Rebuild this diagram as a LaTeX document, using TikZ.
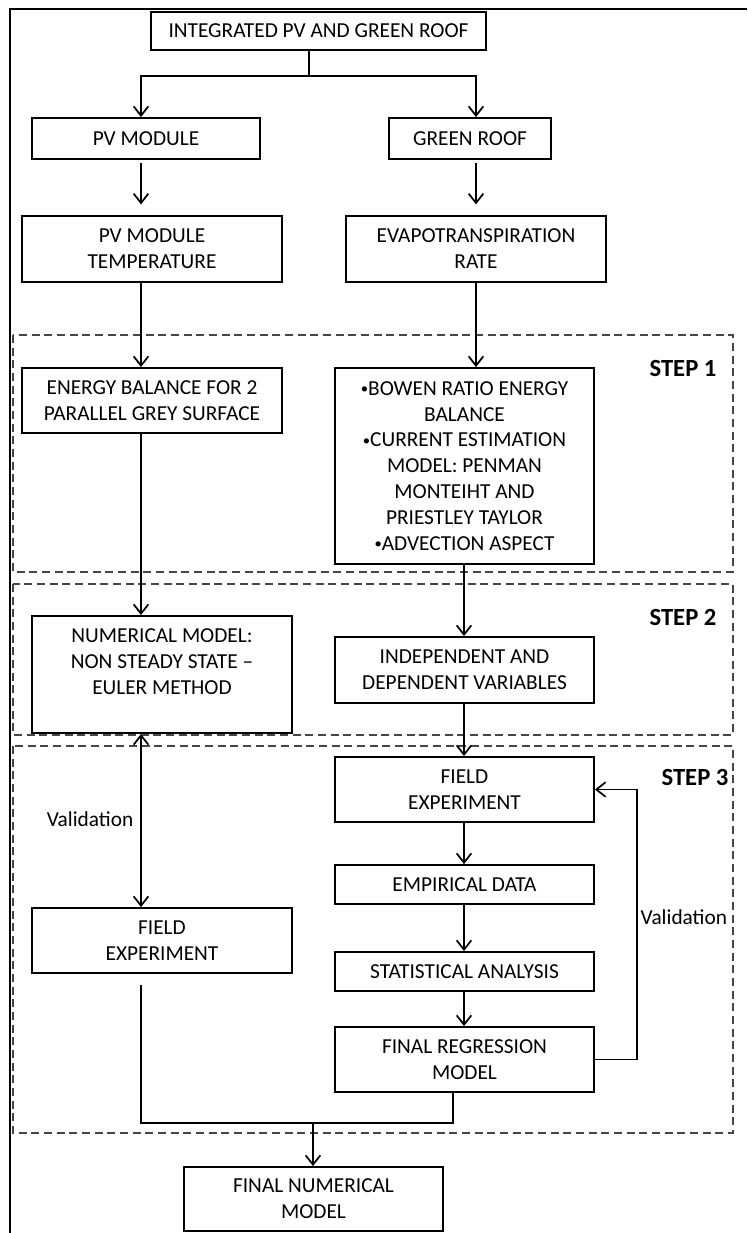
\documentclass[tikz,border=0pt]{standalone}
\usepackage{fontspec}
\setmainfont{Carlito}
\usetikzlibrary{arrows.meta,positioning}
\definecolor{stagegrey}{RGB}{70,70,70}

\newcommand{\dotitem}{\raisebox{0.15ex}{\fontsize{11}{11}\selectfont\textbullet}}

\tikzset{
 box/.style={draw,line width=1.4pt,align=center,inner sep=0pt,
  font=\fontsize{16}{19.4}\selectfont},
 barb/.tip={Straight Barb[length=7pt,width=11pt]},
 flow/.style={line width=1.3pt,-barb},
 twoway/.style={line width=1.3pt,barb-barb},
 link/.style={line width=1.3pt},
 stagebox/.style={stagegrey,line width=1pt,dash pattern=on 6pt off 3.5pt},
 steplabel/.style={font=\fontsize{18.5}{20}\selectfont\bfseries},
 note/.style={font=\fontsize{16}{19}\selectfont,inner sep=1pt}
}

\begin{document}
\begin{tikzpicture}[x=0.75pt,y=-0.75pt,line cap=butt,line join=miter]
 \useasboundingbox (0,0) rectangle (747,1233);
 \draw[line width=0.9pt] (10,1233) -- (10,9) -- (747,9);

 \draw[stagebox] (13,335) rectangle (733,572);
 \draw[stagebox] (13,584) rectangle (733,735);
 \draw[stagebox] (13,746) rectangle (733,1133);
 \node[steplabel] (s1) at (683,368) {STEP 1};
 \node[steplabel] (s2) at (683,617) {STEP 2};
 \node[steplabel] (s3) at (695,777) {STEP 3};

 \coordinate (colL) at (141,0);
 \coordinate (colR) at (476,0);
 \coordinate (colC) at (464,0);
 \coordinate (colM) at (453,0);
 \coordinate (colV) at (637,0);
 \coordinate (split) at (309,76);
 \coordinate (join) at (313,1123);

 \node[box,minimum width=251.25pt,minimum height=28.5pt] (top) at (318.5,31) {INTEGRATED PV AND GREEN ROOF};
 \node[box,minimum width=171pt,minimum height=30.75pt] (pvm) at (146,138.5) {PV MODULE};
 \node[box,minimum width=121.5pt,minimum height=30.75pt] (grf) at (470,138.5) {GREEN ROOF};
 \node[box,minimum width=195pt,minimum height=49.5pt] (pvt) at (152,249) {PV MODULE\\TEMPERATURE};
 \node[box,minimum width=195pt,minimum height=49.5pt] (evr) at (476,249) {EVAPOTRANSPIRATION\\RATE};
 \node[box,minimum width=195pt,minimum height=48.75pt] (ebal) at (152,400.5) {ENERGY BALANCE FOR 2\\PARALLEL GREY SURFACE};
 \node[box,minimum width=194.25pt,minimum height=147pt] (bowen) at (464.5,466)
  {\dotitem BOWEN RATIO ENERGY\\BALANCE\\\dotitem CURRENT ESTIMATION\\MODEL: PENMAN\\MONTEIHT AND\\PRIESTLEY TAYLOR\\\dotitem ADVECTION ASPECT};
 \node[box,minimum width=195pt,minimum height=87.75pt] (num) at (162,674.5) {NUMERICAL MODEL:\\NON STEADY STATE --\\EULER METHOD\\ ~};
 \node[box,minimum width=194.25pt,minimum height=49.5pt] (indep) at (464.5,670) {INDEPENDENT AND\\DEPENDENT VARIABLES};
 \node[box,minimum width=194.25pt,minimum height=48.75pt] (fexpR) at (464.5,789.5) {FIELD\\EXPERIMENT};
 \node[box,minimum width=194.25pt,minimum height=29.25pt] (emp) at (464.5,884.5) {EMPIRICAL DATA};
 \node[box,minimum width=195pt,minimum height=48.75pt] (fexpL) at (162,940.5) {FIELD\\EXPERIMENT};
 \node[box,minimum width=194.25pt,minimum height=29.25pt] (stat) at (464.5,971.5) {STATISTICAL ANALYSIS};
 \node[box,minimum width=194.25pt,minimum height=48.75pt] (freg) at (464.5,1059.5) {FINAL REGRESSION\\MODEL};
 \node[box,minimum width=194.25pt,minimum height=48pt] (fnum) at (313.5,1199) {FINAL NUMERICAL\\MODEL};

 \draw[link] (split |- top.south) -- (split);
 \draw[flow] (split) -| (colL |- pvm.north);
 \draw[flow] (split) -| (colR |- grf.north);
 \draw[flow,shorten <=2pt,shorten >=8pt] (colL |- pvm.south) -- (colL |- pvt.north);
 \draw[flow,shorten <=2pt,shorten >=8pt] (colR |- grf.south) -- (colR |- evr.north);
 \draw[flow] (colL |- pvt.south) -- (colL |- ebal.north);
 \draw[flow] (colR |- evr.south) -- (colR |- bowen.north);
 \draw[flow] (colL |- ebal.south) -- (colL |- num.north);
 \draw[flow] (colC |- bowen.south) -- (colC |- indep.north);
 \draw[flow] (colC |- indep.south) -- (colC |- fexpR.north);
 \draw[flow] (colC |- fexpR.south) -- (colC |- emp.north);
 \draw[flow] (colC |- emp.south) -- (colC |- stat.north);
 \draw[flow] (colC |- stat.south) -- (colC |- freg.north);
 \draw[twoway] (colL |- num.south) -- (colL |- fexpL.north);
 \draw[flow] (freg.east) -| (colV |- fexpR.east) -- (fexpR.east);
 \draw[link,shorten <=8pt] (colL |- fexpL.south) |- (join) -| (colM |- freg.south);
 \draw[flow] (join) -- (join |- fnum.north);

 \node[note] (valL) at (90,819) {Validation};
 \node[note,anchor=west] (valR) at (639,917) {Validation};
\end{tikzpicture}
\end{document}
